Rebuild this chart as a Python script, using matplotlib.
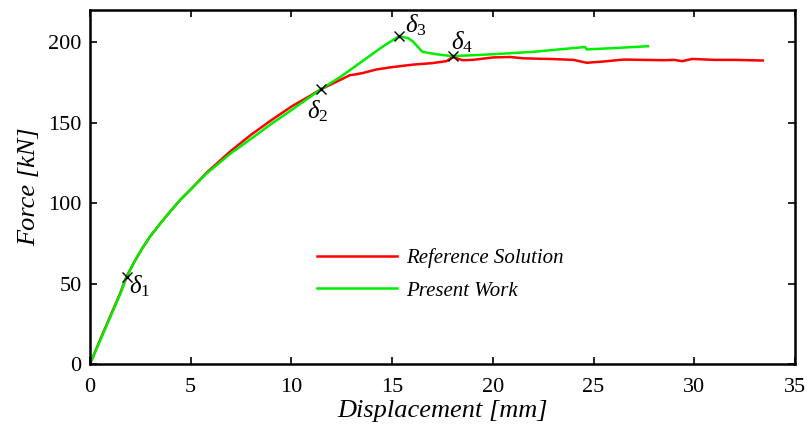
import matplotlib
matplotlib.use("Agg")
import matplotlib.pyplot as plt

plt.rcParams['font.family'] = ['Liberation Serif', 'DejaVu Serif']
plt.rcParams['mathtext.fontset'] = 'custom'
plt.rcParams['mathtext.rm'] = 'Liberation Serif'
plt.rcParams['mathtext.it'] = 'Liberation Serif:italic'

ref_x = [0, 0.5, 1.0, 1.5, 1.82, 2.2, 2.6, 3.0, 3.5, 4.0, 4.47, 5.0, 5.8, 7.0, 8.0, 9.0, 10.0, 10.7, 11.45, 12.0, 12.5, 12.9, 13.2, 13.6, 14.2, 15.0, 16.0, 17.0, 17.7, 18.0, 18.5, 19.0, 20.0, 20.85, 21.5, 22.0, 23.0, 24.0, 24.66, 25.5, 26.5, 27.5, 28.5, 29.0, 29.4, 29.9, 31.0, 32.0, 33.4]
ref_y = [0, 15, 29.5, 44, 54.5, 63.5, 72, 79.5, 87.5, 95, 101.9, 108.5, 119, 132.5, 142.5, 151.5, 160, 165, 170.6, 174, 177, 179.5, 180, 181, 183, 184.5, 186, 187, 188.2, 190.8, 188.8, 189, 190.5, 190.8, 190, 189.8, 189.5, 189, 187.2, 188, 189.2, 189, 188.8, 189, 188.2, 189.6, 189, 189, 188.6]

pw_x = [0, 0.5, 1.0, 1.5, 1.82, 2.2, 2.6, 3.0, 3.5, 4.0, 4.47, 5.0, 5.79, 7.0, 8.0, 9.0, 10.0, 11.45, 12.5, 13.5, 14.5, 15.34, 15.8, 16.05, 16.5, 17.2, 18.0, 20.0, 22.0, 24.58, 24.66, 26.0, 27.7]
pw_y = [0, 14.5, 29, 43.5, 54.2, 63.5, 72, 79.5, 87.5, 95, 101.9, 108.5, 118.4, 131, 140, 149.2, 157.8, 170.6, 179, 188, 197, 203.7, 202.5, 200.2, 194, 192.5, 191.3, 192.5, 194, 197, 195.5, 196.3, 197.5]

mark_x = [1.82, 11.45, 15.34, 18.0]
mark_y = [54.2, 170.6, 203.7, 191.3]
mark_labels = [r'$\delta_{\mathit{1}}$', r'$\delta_{\mathit{2}}$', r'$\delta_{\mathit{3}}$', r'$\delta_{\mathit{4}}$']
label_offsets_px = [(13, -9), (-3, -22), (17, 11), (9, 14)]

x_ticks = [0, 5, 10, 15, 20, 25, 30, 35]
y_ticks = [0, 50, 100, 150, 200]

fig = plt.figure(figsize=(8.08, 4.34), dpi=100)
ax = fig.add_axes([90/808, 1 - 364/434, 705/808, 354/434])

ax.plot(ref_x, ref_y, color='#ff0000', lw=1.8, label='Reference Solution')
ax.plot(pw_x, pw_y, color='#00ee00', lw=1.8, label='Present Work')
ax.plot(mark_x, mark_y, linestyle='none', marker='x', color='black', ms=7, mew=1.0)
ax.plot(mark_x, mark_y, linestyle='none', marker='.', color='black', ms=3)

for (mx, my, lab, off) in zip(mark_x, mark_y, mark_labels, label_offsets_px):
    ax.annotate(lab, (mx, my), xytext=(off[0] * 0.72, off[1] * 0.72), textcoords='offset points',
                fontsize=18, ha='center', va='center')

ax.set_xlim(0, 35)
ax.set_ylim(0, 220)
ax.set_xticks(x_ticks)
ax.set_yticks(y_ticks)
ax.tick_params(direction='in', top=True, right=True, labelsize=16, width=1.2, length=5)
ax.tick_params(axis='x', pad=10)
ax.tick_params(axis='y', pad=6)
for s in ax.spines.values():
    s.set_linewidth(1.8)
ax.set_xlabel('Displacement [mm]', fontsize=19, style='italic', labelpad=2)
ax.set_ylabel('Force [kN]', fontsize=19, style='italic', labelpad=6)

leg = ax.legend(loc='upper left', bbox_to_anchor=(0.296, 0.379), frameon=False,
                prop={'size': 15, 'style': 'italic'}, handlelength=3.8, handletextpad=0.45,
                labelspacing=0.6)

fig.savefig('out.png', dpi=100)
